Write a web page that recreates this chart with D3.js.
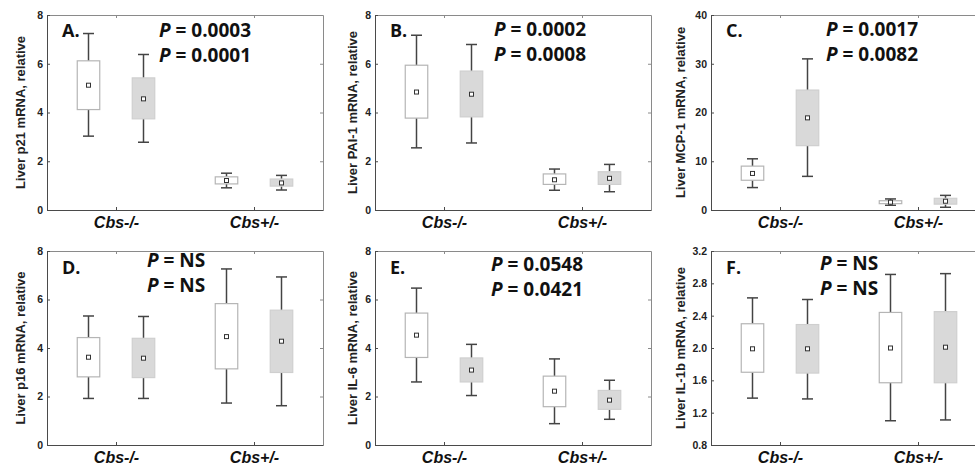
<!DOCTYPE html>
<html>
<head>
<meta charset="utf-8">
<script src="https://cdn.jsdelivr.net/npm/d3@7"></script>
<style>
  body { margin: 0; background: #fff; }
  svg { display: block; }
</style>
</head>
<body>
<div id="chart"></div>
<script>
// categories and labels
var groups = ["Cbs-/-", "Cbs+/-"];
var panelLetters = ["A.", "B.", "C.", "D.", "E.", "F."];
var yTitles = [
    "Liver p21 mRNA, relative",
    "Liver PAI-1 mRNA, relative",
    "Liver MCP-1 mRNA, relative",
    "Liver p16 mRNA, relative",
    "Liver IL-6 mRNA, relative",
    "Liver IL-1b mRNA, relative"
];
var pValues = [
    ["0.0003", "0.0001"],
    ["0.0002", "0.0008"],
    ["0.0017", "0.0082"],
    ["NS", "NS"],
    ["0.0548", "0.0421"],
    ["NS", "NS"]
];
var yTicks = [
    [0, 2, 4, 6, 8],
    [0, 2, 4, 6, 8],
    [0, 10, 20, 30, 40],
    [0, 2, 4, 6, 8],
    [0, 2, 4, 6, 8],
    [0.8, 1.2, 1.6, 2.0, 2.4, 2.8, 3.2]
];

// [whisker low, box low, mean, box high, whisker high] per group
var p21Open   = [[3.03, 4.12, 5.12, 6.12, 7.24], [0.91, 1.07, 1.21, 1.36, 1.51]];
var p21Filled = [[2.78, 3.74, 4.56, 5.42, 6.38], [0.82, 0.98, 1.11, 1.27, 1.42]];
var pai1Open   = [[2.55, 3.77, 4.84, 5.94, 7.17], [0.81, 1.05, 1.24, 1.48, 1.68]];
var pai1Filled = [[2.75, 3.82, 4.75, 5.70, 6.79], [0.75, 1.05, 1.30, 1.57, 1.87]];
var mcp1Open   = [[4.6, 6.1, 7.5, 9.0, 10.5], [0.97, 1.3, 1.6, 1.9, 2.27]];
var mcp1Filled = [[6.9, 13.2, 18.9, 24.6, 31.0], [0.56, 1.2, 1.8, 2.4, 3.0]];
var p16Open   = [[1.92, 2.81, 3.62, 4.43, 5.32], [1.73, 3.14, 4.47, 5.83, 7.26]];
var p16Filled = [[1.92, 2.78, 3.58, 4.40, 5.30], [1.62, 2.99, 4.28, 5.56, 6.93]];
var il6Open   = [[2.60, 3.61, 4.53, 5.44, 6.47], [0.88, 1.58, 2.22, 2.84, 3.55]];
var il6Filled = [[2.04, 2.60, 3.09, 3.59, 4.15], [1.06, 1.47, 1.85, 2.25, 2.67]];
var il1bOpen   = [[1.38, 1.70, 1.99, 2.30, 2.62], [1.10, 1.57, 2.00, 2.44, 2.91]];
var il1bFilled = [[1.37, 1.69, 1.99, 2.29, 2.60], [1.11, 1.57, 2.01, 2.45, 2.92]];

var openSeries = [p21Open, pai1Open, mcp1Open, p16Open, il6Open, il1bOpen];
var filledSeries = [p21Filled, pai1Filled, mcp1Filled, p16Filled, il6Filled, il1bFilled];

// layout
var plotLeft = [47, 375, 711],
    plotW = 276,
    plotTop = [15, 251],
    plotBottom = [210, 445],
    titleX = [20, 352, 680],
    letterY = [37, 274],
    pX = [159, 494, 826, 147, 491, 820],
    pY = [37, 36, 36, 267, 271, 270],
    boxOffset = 27.5,
    boxW = 22.5,
    capW = 11;

var svg = d3.select("#chart").append("svg")
    .attr("width", 975)
    .attr("height", 466);

panelLetters.forEach(function(letter, i) {
    var col = i % 3, row = Math.floor(i / 3);
    var x0 = plotLeft[col], x1 = x0 + plotW;
    var yT = plotTop[row], yB = plotBottom[row];
    var ticks = yTicks[i];

    var x = d3.scalePoint()
        .domain(groups)
        .range([x0, x1])
        .padding(0.5);
    var y = d3.scaleLinear()
        .domain([ticks[0], ticks[ticks.length - 1]])
        .range([yB, yT]);

    var g = svg.append("g").attr("class", "panel");

    var fmt = i === 5 ? d3.format(".1f") : d3.format("d");

    // top and right frame (light)
    g.append("g")
        .attr("transform", "translate(0," + yT + ")")
        .call(d3.axisTop(x).tickSize(-3).tickSizeOuter(0).tickFormat(""))
        .call(function(s) { s.selectAll("path, line").attr("stroke", "#8a8a8a"); });
    g.append("g")
        .attr("transform", "translate(" + x1 + ",0)")
        .call(d3.axisRight(y).tickValues(ticks).tickSize(-3).tickSizeOuter(0).tickFormat(""))
        .call(function(s) { s.selectAll("path, line").attr("stroke", "#8a8a8a"); });

    // left and bottom axes
    g.append("g")
        .attr("transform", "translate(" + x0 + ",0)")
        .call(d3.axisLeft(y).tickValues(ticks).tickSize(-3).tickSizeOuter(0).tickPadding(4).tickFormat(fmt))
        .call(function(s) {
            s.selectAll("path, line").attr("stroke", "#4a4a4a");
            s.selectAll("text")
                .attr("fill", "#222")
                .style("font-family", "'Liberation Sans', Arial, sans-serif")
                .style("font-weight", "bold")
                .style("font-size", "10.5px");
        });
    g.append("g")
        .attr("transform", "translate(0," + yB + ")")
        .call(d3.axisBottom(x).tickSize(-3).tickSizeOuter(0).tickPadding(4))
        .call(function(s) {
            s.selectAll("path, line").attr("stroke", "#4a4a4a");
            s.selectAll("text")
                .attr("fill", "#111")
                .attr("dy", "0.85em")
                .style("font-family", "'Liberation Sans', Arial, sans-serif")
                .style("font-weight", "bold")
                .style("font-style", "italic")
                .style("font-size", "16px");
        });

    // y axis title
    g.append("text")
        .attr("transform", "translate(" + titleX[col] + "," + ((yT + yB) / 2) + ") rotate(-90)")
        .attr("text-anchor", "middle")
        .attr("dy", "0.35em")
        .attr("fill", "#222")
        .style("font-family", "'Liberation Sans', Arial, sans-serif")
        .style("font-weight", "bold")
        .style("font-size", "13px")
        .text(yTitles[i]);

    // boxes
    var series = [
        {vals: openSeries[i], dx: -boxOffset, fill: "#ffffff", stroke: "#b5b5b5"},
        {vals: filledSeries[i], dx: boxOffset, fill: "#d9d9d9", stroke: "#cfcfcf"}
    ];
    series.forEach(function(s) {
        var items = s.vals.map(function(v, k) { return {group: groups[k], v: v}; });
        var bx = g.selectAll(null).data(items).enter().append("g")
            .attr("transform", function(d) { return "translate(" + (x(d.group) + s.dx) + ",0)"; });

        // whiskers
        bx.append("line")
            .attr("x1", 0).attr("x2", 0)
            .attr("y1", function(d) { return y(d.v[4]); })
            .attr("y2", function(d) { return y(d.v[3]); })
            .attr("stroke", "#444").attr("stroke-width", 1.5);
        bx.append("line")
            .attr("x1", 0).attr("x2", 0)
            .attr("y1", function(d) { return y(d.v[1]); })
            .attr("y2", function(d) { return y(d.v[0]); })
            .attr("stroke", "#444").attr("stroke-width", 1.5);
        bx.append("line")
            .attr("x1", -capW / 2).attr("x2", capW / 2)
            .attr("y1", function(d) { return y(d.v[4]); })
            .attr("y2", function(d) { return y(d.v[4]); })
            .attr("stroke", "#444").attr("stroke-width", 1.5);
        bx.append("line")
            .attr("x1", -capW / 2).attr("x2", capW / 2)
            .attr("y1", function(d) { return y(d.v[0]); })
            .attr("y2", function(d) { return y(d.v[0]); })
            .attr("stroke", "#444").attr("stroke-width", 1.5);

        // box
        bx.append("rect")
            .attr("x", -boxW / 2)
            .attr("width", boxW)
            .attr("y", function(d) { return y(d.v[3]); })
            .attr("height", function(d) { return y(d.v[1]) - y(d.v[3]); })
            .attr("fill", s.fill)
            .attr("stroke", s.stroke)
            .attr("stroke-width", 1.2);

        // mean marker
        bx.append("rect")
            .attr("x", -2)
            .attr("y", function(d) { return y(d.v[2]) - 2; })
            .attr("width", 4)
            .attr("height", 4)
            .attr("fill", "#fff")
            .attr("stroke", "#333")
            .attr("stroke-width", 1);
    });

    // panel letter
    g.append("text")
        .attr("x", x0 + 15)
        .attr("y", letterY[row])
        .attr("fill", "#111")
        .style("font-family", "'Open Sans', sans-serif")
        .style("font-weight", "bold")
        .style("font-size", "18px")
        .text(letter);

    // P values
    pValues[i].forEach(function(pv, k) {
        var t = g.append("text")
            .attr("x", pX[i])
            .attr("y", pY[i] + k * 25)
            .attr("fill", "#111")
            .style("font-family", "'Open Sans', sans-serif")
            .style("font-weight", "bold")
            .style("font-size", "19px");
        t.append("tspan").style("font-style", "italic").text("P");
        t.append("tspan").text(" = " + pv);
    });
});
</script>
</body>
</html>
